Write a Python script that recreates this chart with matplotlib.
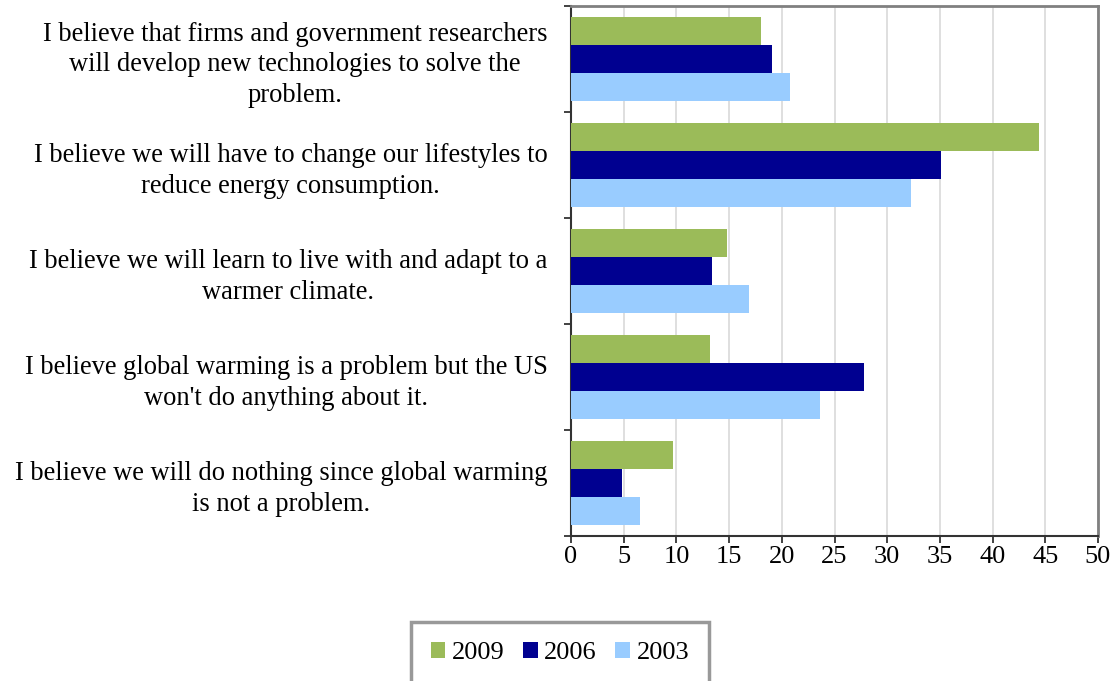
import matplotlib
matplotlib.use("Agg")
import matplotlib.pyplot as plt
import numpy as np

categories = [
    "I believe that firms and government researchers\nwill develop new technologies to solve the\nproblem.",
    "I believe we will have to change our lifestyles to\nreduce energy consumption.",
    "I believe we will learn to live with and adapt to a\nwarmer climate.",
    "I believe global warming is a problem but the US\nwon't do anything about it.",
    "I believe we will do nothing since global warming\nis not a problem.",
]
series_names = ["2009", "2006", "2003"]
values_2009 = [18.0, 44.4, 14.8, 13.2, 9.7]
values_2006 = [19.1, 35.1, 13.4, 27.8, 4.8]
values_2003 = [20.8, 32.3, 16.9, 23.6, 6.5]
colors = ["#9BBB59", "#000090", "#99CCFF"]
xticks = [0, 5, 10, 15, 20, 25, 30, 35, 40, 45, 50]

plt.rcParams['font.family'] = ['Liberation Serif', 'DejaVu Serif']

fig = plt.figure(figsize=(11.19, 6.81), dpi=100)
ax = fig.add_axes([571/1119, 1 - 536/681, (1098 - 571)/1119, (536 - 6)/681])

n = len(categories)
y = np.arange(n)
h = 0.264
all_vals = [values_2009, values_2006, values_2003]
for k, (vals, name, c) in enumerate(zip(all_vals, series_names, colors)):
    ax.barh(y + (k - 1) * h, vals, height=h, color=c, label=name,
            edgecolor='none', zorder=3)

ax.set_xlim(0, 50)
ax.set_ylim(n - 0.5, -0.5)
ax.set_xticks(xticks)
ax.set_xticklabels([str(t) for t in xticks], fontsize=19)
ax.tick_params(axis='x', length=5, width=1.3, color='#333333', pad=2, direction='out')

ax.set_yticks(y)
ax.set_yticklabels(categories, fontsize=19.1, multialignment='center', linespacing=1.3)
ax.tick_params(axis='y', which='major', length=0, pad=17)
ax.set_yticks(np.arange(n + 1) - 0.5, minor=True)
ax.tick_params(axis='y', which='minor', length=5, width=1.3, color='#333333', direction='out')

ax.grid(axis='x', color='#D9D9D9', linewidth=1.2, zorder=0)
ax.set_axisbelow(True)

for s in ['left', 'bottom']:
    ax.spines[s].set_color('#333333')
    ax.spines[s].set_linewidth(1.5)
for s in ['top', 'right']:
    ax.spines[s].set_color('#808080')
    ax.spines[s].set_linewidth(2.0)

leg = fig.legend(loc='upper center', bbox_to_anchor=(560/1119, 1 - 622/681),
                 ncol=3, fontsize=19, frameon=True, fancybox=False,
                 handlelength=0.55, handleheight=0.55, handletextpad=0.25,
                 columnspacing=0.7, borderpad=0.75, borderaxespad=0)
leg.get_frame().set_edgecolor('#808080')
leg.get_frame().set_linewidth(2.5)

fig.savefig("out.png", dpi=100)
